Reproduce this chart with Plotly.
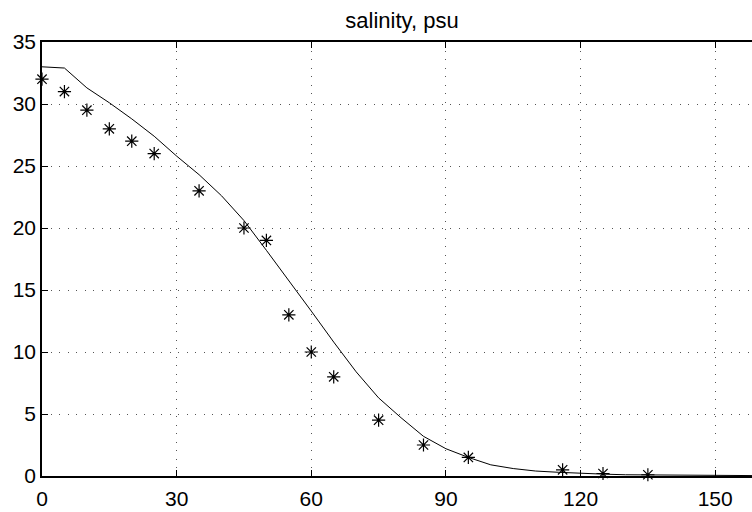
import plotly.graph_objects as go

# observed (asterisks)
obs_x = [0, 5, 10, 15, 20, 25, 35, 45, 50, 55, 60, 65, 75, 85, 95, 116, 125, 135]
obs_y = [32, 31, 29.5, 28, 27, 26, 23, 20, 19, 13, 10, 8, 4.5, 2.5, 1.5, 0.5, 0.2, 0.1]

# model (line)
mod_x = [0, 5, 10, 15, 20, 25, 30, 35, 40, 45, 50, 55, 60, 65, 70, 75, 80, 85, 90, 95,
         100, 105, 110, 115, 120, 125, 130, 135, 140, 145, 150, 155, 160]
mod_y = [33.0, 32.9, 31.3, 30.1, 28.8, 27.4, 25.8, 24.3, 22.6, 20.6, 18.2, 15.8, 13.3, 10.8,
         8.4, 6.3, 4.7, 3.2, 2.2, 1.5, 0.9, 0.6, 0.4, 0.3, 0.2, 0.15, 0.1, 0.08, 0.06,
         0.05, 0.04, 0.03, 0.03]

x_ticks = [0, 30, 60, 90, 120, 150]
y_ticks = [0, 5, 10, 15, 20, 25, 30, 35]
title = "salinity, psu"

fig = go.Figure()
fig.add_trace(go.Scatter(x=mod_x, y=mod_y, mode="lines",
                         line=dict(color="black", width=1), showlegend=False))
fig.add_trace(go.Scatter(x=obs_x, y=obs_y, mode="markers",
                         marker=dict(symbol="asterisk-open", size=11, color="black",
                                     line=dict(color="black", width=1.2)),
                         showlegend=False, cliponaxis=False))

font = dict(family="Liberation Sans, Arial, Helvetica, sans-serif", color="black")
grid = dict(showgrid=True, gridcolor="#555555", griddash="1px,7.5px", gridwidth=1)
fig.update_layout(
    width=752, height=512,
    margin=dict(l=42, r=0, t=42, b=36),
    paper_bgcolor="white", plot_bgcolor="white",
    font=dict(**font, size=21),
    title=dict(text=title, x=402 / 752, xanchor="center", xref="container",
               y=1 - 20 / 512, yanchor="middle", yref="container",
               font=dict(**font, size=22)),
    xaxis=dict(range=[0, 158.2], tickvals=x_ticks, ticktext=[str(v) for v in x_ticks],
               ticks="inside", ticklen=6, tickcolor="black", tickwidth=1,
               showline=True, linecolor="black", linewidth=1.5, mirror="ticks",
               ticklabelstandoff=3,
               zeroline=False, tickfont=dict(**font, size=21), **grid),
    yaxis=dict(range=[0, 35], tickvals=y_ticks, ticktext=[str(v) for v in y_ticks],
               ticks="inside", ticklen=6, tickcolor="black", tickwidth=1,
               showline=True, linecolor="black", linewidth=1.5, mirror=False,
               zeroline=False, tickfont=dict(**font, size=21), **grid),
)

fig.write_html("out.html")
